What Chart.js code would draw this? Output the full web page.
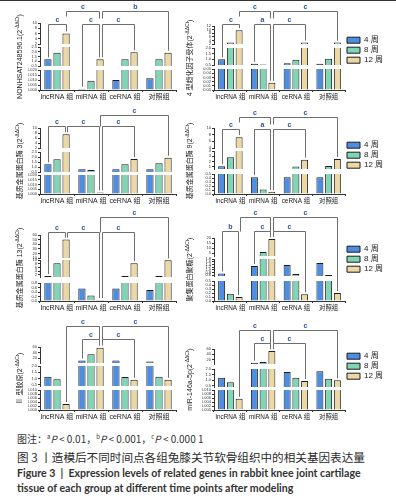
<!DOCTYPE html>
<html>
<head>
<meta charset="utf-8">
<script src="https://cdn.jsdelivr.net/npm/chart.js@4"></script>
<style>
body { margin: 0; width: 396px; height: 502px; position: relative; overflow: hidden; background: #fff; }
canvas { position: absolute; }
.rule { position: absolute; left: 0; top: 0; width: 396px; height: 1px; background: #333; }
.cap { position: absolute; left: 17px; white-space: nowrap; color: #333; }
.note { top: 433px; font: 10px/12px "Noto Sans CJK SC", sans-serif; }
.note sup { font-size: 6px; vertical-align: 4px; line-height: 0; }
.zh { top: 450px; font: 11.6px/15px "Noto Sans CJK SC", sans-serif; color: #2a2a2a; }
.en { font: bold 10.6px/12px Lato, "Noto Sans", sans-serif; color: #333; }
</style>
</head>
<body>
<div class="rule"></div>
<canvas id="c1" width="184" height="106" style="left:0;top:0"></canvas>
<canvas id="c2" width="212" height="106" style="left:184px;top:0"></canvas>
<canvas id="c3" width="184" height="106" style="left:0;top:104px"></canvas>
<canvas id="c4" width="212" height="106" style="left:184px;top:104px"></canvas>
<canvas id="c5" width="184" height="106" style="left:0;top:211px"></canvas>
<canvas id="c6" width="212" height="106" style="left:184px;top:211px"></canvas>
<canvas id="c7" width="184" height="106" style="left:0;top:320px"></canvas>
<canvas id="c8" width="212" height="106" style="left:184px;top:320px"></canvas>

<div class="cap note">图注：<sup>a</sup><i>P</i> &lt; 0.01，<sup>b</sup><i>P</i> &lt; 0.001，<sup>c</sup><i>P</i> &lt; 0.000 1</div>
<div class="cap zh">图 3 丨造模后不同时间点各组兔膝关节软骨组织中的相关基因表达量</div>
<div class="cap en" style="top:467px">Figure 3 &nbsp;|&nbsp; Expression levels of related genes in rabbit knee joint cartilage</div>
<div class="cap en" style="top:482px">tissue of each group at different time points after modeling</div>

<script>
"use strict";

const groups = ["lncRNA 组", "miRNA 组", "ceRNA 组", "对照组"];
const weeks  = ["4 周", "8 周", "12 周"];

// NONHSAT248596.1
const nonW4  = [1.2, 0.0013, 0.010, 0.0117];
const nonW8  = [1.9, 0.0093, 1.2, 1.2];
const nonW12 = [6.0, 1.2, 1.95, 1.9];
const nonTicksLow  = ["0.000", "0.005", "0.010", "0.015", "0.020"];
const nonTicksMid  = ["0.5", "1.0", "1.5", "2.0", "2.5"];
const nonTicksHigh = ["2", "4", "6", "8", "10"];

// 4 型趋化因子受体
const cxW4  = [1.0, 0.6, 0.66, 0.6];
const cxW8  = [2.8, 0.55, 0.97, 1.06];
const cxW12 = [9.7, 0.017, 2.8, 2.8];
const cxTicksLow  = ["0.00", "0.01", "0.02", "0.03", "0.04", "0.05"];
const cxTicksMid  = ["0.5", "1.0", "1.5", "2.0"];
const cxTicksHigh = ["2", "4", "6", "8", "10", "12"];

// 基质金属蛋白酶 3
const mmp3W4  = [1.27, 0.77, 0.77, 0.77];
const mmp3W8  = [1.77, 0.7, 1.27, 1.37];
const mmp3W12 = [7.5, 0.0017, 1.8, 1.93];

// 基质金属蛋白酶 9
const mmp9W4  = [1.1, 0.42, 0.42, 0.42];
const mmp9W8  = [2.8, 0.11, 1.05, 1.18];
const mmp9W12 = [7.25, 0.047, 2.36, 2.5];
const mmp9TicksLow  = ["0.0", "0.1", "0.2", "0.3", "0.4", "0.5"];
const mmp9TicksMid  = ["1", "2", "3", "4"];
const mmp9TicksHigh = ["4", "6", "8", "10"];

// 基质金属蛋白酶 13
const mmp13W4  = [1.3, 0.56, 0.56, 0.49];
const mmp13W8  = [8.3, 0.24, 1.3, 1.4];
const mmp13W12 = [50, 0.04, 8.3, 9.8];
const mmp13TicksLow  = ["0.0", "0.2", "0.4", "0.6", "0.8"];
const mmp13TicksMid  = ["2", "4", "6", "8", "10"];
const mmp13TicksHigh = ["10", "20", "30", "40", "50", "60"];

// 聚集蛋白聚糖
const aggW4  = [0.73, 1.29, 1.35, 1.51];
const aggW8  = [0.18, 6.1, 0.69, 0.62];
const aggW12 = [0.1, 19, 0.17, 0.2];
const aggTicksLow  = ["0.0", "0.1", "0.2", "0.3", "0.4", "0.5"];
const aggTicksMid  = ["0.6", "0.8", "1.0", "1.2", "1.4", "1.6", "1.8"];
const aggTicksHigh = ["5", "10", "15", "20"];

// II 型胶原
const colW4  = [1.15, 12, 12, 8.7];
const colW8  = [0.95, 34, 1.12, 1.15];
const colW12 = [0.003, 57.5, 0.9, 0.9];
const colTicksLow  = ["0.000", "0.002", "0.004", "0.006", "0.008", "0.010"];
const colTicksMid  = ["0.5", "1.0", "1.5", "2.0"];
const colTicksHigh = ["20", "40", "60"];

// miR-146a-5p
const mirW4  = [1.23, 7.7, 1.73, 1.81];
const mirW8  = [0.83, 11, 1.23, 1.14];
const mirW12 = [0.0056, 52, 0.94, 1.0];

const FONT   = '"Liberation Sans", "Noto Sans CJK SC", sans-serif';
const fills  = ["#4d8ee3", "#7fd6b6", "#ebd8a4"];
const ink    = "#1c1c1c";

Chart.defaults.font.family = FONT;
Chart.defaults.color = "#222";

// brackets: [from [group, bar, dx], to [group, bar, dx], y, label, legFrom, legTo]
const panels = [
    {
        id: "c1", right: false, top: 23, title: "NONHSAT248596.1",
        values: [nonW4, nonW8, nonW12],
        segs: [
            {min: 0, max: 0.02, ticks: nonTicksLow},
            {min: 0.5, max: 2.5, ticks: nonTicksMid},
            {min: 2, max: 10, ticks: nonTicksHigh}
        ],
        weights: [21, 3, 19, 4, 20],
        brackets: [
            [[0, 2, 0], [1, 2, -1.5], 11, "c", 5, 7],
            [[1, 2, 1.5], [3, 2, 0], 11, "b", 7, "bar"],
            [[0, 0, 0], [0, 2, 0], 24, "c", "bar", "bar"],
            [[1, 0, 0], [1, 2, -1.5], 24, "c", "bar", "bar"],
            [[1, 2, 1.5], [2, 2, 0], 24, "c", "bar", "bar"]
        ]
    },
    {
        id: "c2", right: true, top: 26, title: "4 型趋化因子受体", legendShift: 7,
        values: [cxW4, cxW8, cxW12],
        segs: [
            {min: 0, max: 0.05, ticks: cxTicksLow},
            {min: 0.5, max: 2.0, ticks: cxTicksMid},
            {min: 2, max: 12, ticks: cxTicksHigh}
        ],
        weights: [18, 4, 17, 4, 21],
        brackets: [
            [[0, 2, 0], [1, 2, -1.5], 11, "c", 5, 7],
            [[1, 2, 1.5], [3, 2, 0], 11, "c", 7, "bar"],
            [[0, 0, 0], [0, 2, 0], 24, "c", "bar", "bar"],
            [[1, 0, 0], [1, 2, -1.5], 24, "a", "bar", "bar"],
            [[1, 2, 1.5], [2, 2, 0], 24, "c", "bar", "bar"]
        ]
    },
    {
        id: "c3", right: false, top: 24, title: "基质金属蛋白酶 3",
        values: [mmp3W4, mmp3W8, mmp3W12],
        segs: [
            {min: 0, max: 0.02, ticks: nonTicksLow},
            {min: 0.5, max: 2.5, ticks: nonTicksMid},
            {min: 2, max: 10, ticks: nonTicksHigh}
        ],
        weights: [20, 4, 20, 3, 19],
        brackets: [
            [[1, 2, 0], [3, 2, 0], 11, "c", 11, "bar"],
            [[0, 0, 0], [0, 2, -1], 22, "c", "bar", "bar"],
            [[0, 2, 1], [1, 2, -1.5], 22, "c", "bar", "bar"],
            [[1, 2, 1.5], [2, 2, 0], 22, "c", "bar", "bar"]
        ]
    },
    {
        id: "c4", right: true, top: 24, title: "基质金属蛋白酶 9", legendShift: 10,
        values: [mmp9W4, mmp9W8, mmp9W12],
        segs: [
            {min: 0, max: 0.5, ticks: mmp9TicksLow},
            {min: 0.6, max: 4, ticks: mmp9TicksMid},
            {min: 4, max: 10, ticks: mmp9TicksHigh}
        ],
        weights: [20, 3, 18, 5, 20],
        brackets: [
            [[0, 2, 0], [1, 2, -1.5], 13, "c", 5, 7],
            [[1, 2, 1.5], [3, 2, 0], 13, "c", 7, "bar"],
            [[0, 0, 0], [0, 2, 0], 25, "c", "bar", "bar"],
            [[1, 0, 0], [1, 2, -1.5], 25, "a", "bar", "bar"],
            [[1, 2, 1.5], [2, 2, 0], 25, "c", "bar", "bar"]
        ]
    },
    {
        id: "c5", right: false, top: 24, title: "基质金属蛋白酶 13",
        values: [mmp13W4, mmp13W8, mmp13W12],
        segs: [
            {min: 0, max: 0.8, ticks: mmp13TicksLow},
            {min: 0.8, max: 10, ticks: mmp13TicksMid},
            {min: 10, max: 60, ticks: mmp13TicksHigh}
        ],
        weights: [23, 2, 17, 6, 18],
        brackets: [
            [[1, 2, 0], [3, 2, 0], 6, "c", 15, "bar"],
            [[0, 0, 0], [0, 2, -1], 21, "c", "bar", "bar"],
            [[0, 2, 1], [1, 2, -1.5], 21, "c", "bar", "bar"],
            [[1, 2, 1.5], [2, 2, 0], 21, "c", "bar", "bar"]
        ]
    },
    {
        id: "c6", right: true, top: 27, title: "聚集蛋白聚糖", legendShift: 4,
        values: [aggW4, aggW8, aggW12],
        segs: [
            {min: 0, max: 0.5, ticks: aggTicksLow},
            {min: 0.55, max: 1.8, ticks: aggTicksMid},
            {min: 2, max: 20, ticks: aggTicksHigh}
        ],
        weights: [18, 3, 17, 5, 20],
        brackets: [
            [[0, 2, 1], [1, 2, -1.5], 6, "c", 14, 14],
            [[1, 2, 1.5], [3, 2, 0], 6, "c", 14, "bar"],
            [[0, 0, 0], [0, 2, -1], 20, "b", "bar", "bar"],
            [[1, 0, 0], [1, 2, -1.5], 20, "c", "bar", "bar"],
            [[1, 2, 1.5], [2, 2, 0], 20, "c", "bar", "bar"]
        ]
    },
    {
        id: "c7", right: false, top: 27, title: "Ⅱ 型胶原",
        values: [colW4, colW8, colW12],
        segs: [
            {min: 0, max: 0.010, ticks: colTicksLow},
            {min: 0.4, max: 2.0, ticks: colTicksMid},
            {min: 3, max: 60, ticks: colTicksHigh}
        ],
        weights: [16, 3, 20, 4, 20],
        brackets: [
            [[0, 2, 0], [1, 2, -1.5], 6, "c", "bar", 13],
            [[1, 2, 1.5], [3, 2, 0], 6, "c", 13, "bar"],
            [[1, 0, 0], [1, 2, -1.5], 19, "c", "bar", "bar"],
            [[1, 2, 1.5], [2, 2, 0], 19, "c", "bar", "bar"]
        ]
    },
    {
        id: "c8", right: true, top: 29, title: "miR-146a-5p", legendShift: 0,
        values: [mirW4, mirW8, mirW12],
        segs: [
            {min: 0, max: 0.010, ticks: colTicksLow},
            {min: 0.4, max: 2.0, ticks: colTicksMid},
            {min: 3, max: 60, ticks: colTicksHigh}
        ],
        weights: [15, 5, 18, 3, 20],
        brackets: [
            [[0, 2, 0], [1, 2, -1.5], 10, "c", "bar", 13],
            [[1, 2, 1.5], [3, 2, 0], 10, "c", 13, "bar"],
            [[1, 0, 0], [1, 2, -1.5], 23, "c", "bar", "bar"],
            [[1, 2, 1.5], [2, 2, 0], 23, "c", "bar", "bar"]
        ]
    }
];

const panelDecor = {
    id: "panelDecor",
    afterDraw(chart)
    {
        const p    = chart.options.plugins.panelDecor.panel;
        const ctx  = chart.ctx;
        const area = chart.chartArea;

        // axis title, rotated, with superscript
        ctx.save();
        ctx.translate(p.right ? 6 : 20, (area.top + area.bottom) / 2);
        ctx.rotate(-Math.PI / 2);
        ctx.fillStyle    = "#222";
        ctx.textBaseline = "middle";
        const main = p.title + "(2", sup = "-ΔΔCt", tail = ")";
        ctx.font = "7px " + FONT;
        const w1 = ctx.measureText(main).width, w3 = ctx.measureText(tail).width;
        ctx.font = "5px " + FONT;
        const w2 = ctx.measureText(sup).width;
        let x = -(w1 + w2 + w3) / 2;
        ctx.font = "7px " + FONT;
        ctx.fillText(main, x, 0);
        x += w1;
        ctx.font = "5px " + FONT;
        ctx.fillText(sup, x, -2.5);
        x += w2;
        ctx.font = "7px " + FONT;
        ctx.fillText(tail, x, 0);
        ctx.restore();

        // significance brackets
        const barX   = (g, b) => chart.getDatasetMeta(b).data[g].x;
        const barTop = (g, b) =>
        {
            const v = p.values[b][g];
            for (let s = p.segs.length - 1; s >= 0; s--)
            {
                if (v > p.segs[s].min || s === 0)
                {
                    return chart.scales["y" + s].getPixelForValue(Math.min(v, p.segs[s].max));
                }
            }
        };

        ctx.save();
        ctx.strokeStyle  = "#6e6e6e";
        ctx.lineWidth    = 1;
        ctx.fillStyle    = "#2b55a0";
        ctx.font         = "bold 7px " + FONT;
        ctx.textAlign    = "center";
        ctx.textBaseline = "bottom";
        p.brackets.forEach(([a, b, y, label, legA, legB]) =>
        {
            const xa = Math.round(barX(a[0], a[1]) + a[2]) + 0.5;
            const xb = Math.round(barX(b[0], b[1]) + b[2]) + 0.5;
            const yy = y + 0.5;
            const ya = legA === "bar" ? barTop(a[0], a[1]) - 2 : yy + legA;
            const yb = legB === "bar" ? barTop(b[0], b[1]) - 2 : yy + legB;
            ctx.beginPath();
            ctx.moveTo(xa, ya);
            ctx.lineTo(xa, yy);
            ctx.lineTo(xb, yy);
            ctx.lineTo(xb, yb);
            ctx.stroke();
            ctx.fillText(label, (xa + xb) / 2, y - 0.5);
        });
        ctx.restore();
    }
};

function buildScales(p)
{
    const scales = {
        x: {
            type:   "category",
            labels: groups,
            offset: true,
            grid:   {drawOnChartArea: false, tickLength: 2, color: "#333"},
            border: {color: "#333"},
            ticks:  {font: {size: p.right ? 6.4 : 7}, color: "#222", padding: 1, maxRotation: 0, autoSkip: false},
            afterFit: s => { s.height = 16; }
        }
    };

    const realScale = (s, weight) =>
    {
        const seg = p.segs[s];
        return {
            type:        "linear",
            position:    "left",
            stack:       "v",
            stackWeight: weight,
            stacked:     false,
            min:         seg.min,
            max:         seg.max,
            afterBuildTicks: sc => { sc.ticks = seg.ticks.map(t => ({value: parseFloat(t)})); },
            ticks:  {
                font:     {size: 4},
                color:    "#333",
                padding:  1,
                autoSkip: false,
                callback: v => seg.ticks.find(t => parseFloat(t) === v)
            },
            grid:   {drawOnChartArea: false, tickLength: 2, color: "#333"},
            border: {color: "#333"},
            afterFit: sc => { sc.width = 12; }
        };
    };

    const gapScale = weight => ({
        type:        "linear",
        position:    "left",
        stack:       "v",
        stackWeight: weight,
        min:         0,
        max:         1,
        ticks:       {display: false},
        grid:        {display: false},
        border:      {display: false},
        afterFit:    sc => { sc.width = 12; }
    });

    // this build stacks the first-declared scale at the bottom
    const w = p.weights;
    scales.y0 = realScale(0, w[4]);
    scales.g0 = gapScale(w[3]);
    scales.y1 = realScale(1, w[2]);
    scales.g1 = gapScale(w[1]);
    scales.y2 = realScale(2, w[0]);
    return scales;
}

function buildDatasets(p)
{
    const datasets = [];
    for (let s = 0; s < 3; s++)
    {
        for (let k = 0; k < 3; k++)
        {
            datasets.push({
                label:              weeks[k],
                data:               p.values[k].map(v => (s > 0 && v <= p.segs[s].min) ? null : v),
                yAxisID:            "y" + s,
                stack:              "w" + k,
                backgroundColor:    fills[k],
                borderColor:        ink,
                borderWidth:        1,
                borderSkipped:      "start",
                clip:               0,
                categoryPercentage: 0.8,
                barPercentage:      0.8
            });
        }
    }
    return datasets;
}

panels.forEach(p =>
{
    const ctx = document.getElementById(p.id).getContext("2d");

    new Chart(ctx, {
        type:    "bar",
        data:    {labels: groups, datasets: buildDatasets(p)},
        options: {
            responsive: false,
            animation:  false,
            layout:     {
                padding: p.right
                         ? {left: 18, right: 3, top: p.top, bottom: 0}
                         : {left: 28, right: 8, top: p.top, bottom: 0}
            },
            scales:  buildScales(p),
            plugins: {
                tooltip:    {enabled: false},
                panelDecor: {panel: p},
                legend:     {
                    display:  p.right,
                    position: "right",
                    align:    "start",
                    maxWidth: 48,
                    title:    {display: true, text: "", font: {size: 1}, padding: {top: p.legendShift || 0, bottom: 0}},
                    labels:   {
                        boxWidth:  13,
                        boxHeight: 6,
                        padding:   2,
                        color:     "#222",
                        font:      {size: 8},
                        filter:    item => item.datasetIndex < 3
                    }
                }
            }
        },
        plugins: [panelDecor]
    });
});
</script>
</body>
</html>
